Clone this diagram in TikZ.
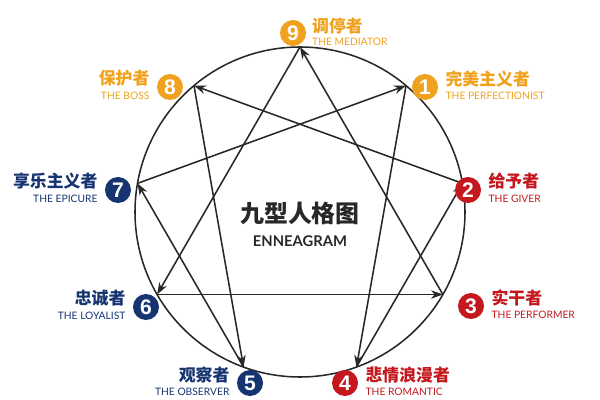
\documentclass[tikz,border=0pt]{standalone}
\usepackage{fontspec}
\setmainfont{Lato}
\newfontfamily\cjk{Noto Sans CJK SC}
\newfontfamily\numfont{Liberation Sans}
\usepackage{tikz}
\usetikzlibrary{arrows.meta}

\definecolor{enorange}{RGB}{240,162,30}
\definecolor{ennavy}{RGB}{22,52,112}
\definecolor{enred}{RGB}{196,24,30}
\definecolor{enline}{RGB}{40,40,40}

\begin{document}
\begin{tikzpicture}[x=0.025cm,y=-0.025cm,
    badge/.style={shape=circle,fill=#1,text=white,inner sep=0pt,minimum size=0.65cm,
      font=\numfont\bfseries\fontsize{15}{15}\selectfont},
    zh/.style={text=#1,inner sep=0pt,font=\cjk\bfseries\fontsize{12}{12}\selectfont},
    en/.style={text=#1,inner sep=0pt,font=\fontsize{7.3}{7.3}\selectfont},
    starline/.style={enline,line width=1.1pt,-{Stealth[length=8.5pt,width=6pt]}}]
        \fill[white] (0,0) rectangle (600,400);
        \useasboundingbox (0,0) rectangle (600,400);
        \draw[enline,line width=1.1pt] (300,212) circle[radius=165];
        \foreach \k in {1,...,9}
          \path (300,212) ++(40*\k-90:165) coordinate (p\k);
        \foreach \a/\b in {9/6,6/3,3/9,1/4,4/2,2/8,8/5,5/7,7/1}
          \draw[starline] (p\a) -- (p\b);
        \node[badge=enorange] (n9) at (293,33) {9};
        \node[badge=enorange] (n8) at (170,87) {8};
        \node[badge=enorange] (n1) at (425,87) {1};
        \node[badge=ennavy] (n7) at (118,190) {7};
        \node[badge=enred] (n2) at (468,190) {2};
        \node[badge=ennavy] (n6) at (146,307) {6};
        \node[badge=enred] (n3) at (471,306) {3};
        \node[badge=ennavy] (n5) at (250,383) {5};
        \node[badge=enred] (n4) at (345,383) {4};
        % right side labels
        \node[zh=enorange,anchor=west] (z9) at ([xshift=4pt,yshift=5pt]n9.east) {调停者};
        \node[en=enorange,anchor=west] (e9) at ([xshift=4pt,yshift=-6pt]n9.east) {THE MEDIATOR};
        \node[zh=enorange,anchor=west] (z1) at ([xshift=5pt,yshift=6pt]n1.east) {完美主义者};
        \node[en=enorange,anchor=west] (e1) at ([xshift=5pt,yshift=-6pt]n1.east) {THE PERFECTIONIST};
        \node[zh=enred,anchor=west] (z2) at ([xshift=5pt,yshift=6pt]n2.east) {给予者};
        \node[en=enred,anchor=west] (e2) at ([xshift=5pt,yshift=-6pt]n2.east) {THE GIVER};
        \node[zh=enred,anchor=west] (z3) at ([xshift=5pt,yshift=6pt]n3.east) {实干者};
        \node[en=enred,anchor=west] (e3) at ([xshift=5pt,yshift=-6pt]n3.east) {THE PERFORMER};
        \node[zh=enred,anchor=west] (z4) at ([xshift=5pt,yshift=6pt]n4.east) {悲情浪漫者};
        \node[en=enred,anchor=west] (e4) at ([xshift=5pt,yshift=-6pt]n4.east) {THE ROMANTIC};
        % left side labels
        \node[zh=enorange,anchor=east] (z8) at ([xshift=-5pt,yshift=6pt]n8.west) {保护者};
        \node[en=enorange,anchor=east] (e8) at ([xshift=-5pt,yshift=-6pt]n8.west) {THE BOSS};
        \node[zh=ennavy,anchor=east] (z7) at ([xshift=-5pt,yshift=6pt]n7.west) {享乐主义者};
        \node[en=ennavy,anchor=east] (e7) at ([xshift=-5pt,yshift=-6pt]n7.west) {THE EPICURE};
        \node[zh=ennavy,anchor=east] (z6) at ([xshift=-5pt,yshift=6pt]n6.west) {忠诚者};
        \node[en=ennavy,anchor=east] (e6) at ([xshift=-5pt,yshift=-6pt]n6.west) {THE LOYALIST};
        \node[zh=ennavy,anchor=east] (z5) at ([xshift=-5pt,yshift=6pt]n5.west) {观察者};
        \node[en=ennavy,anchor=east] (e5) at ([xshift=-5pt,yshift=-6pt]n5.west) {THE OBSERVER};
        % centre
        \node[text=enline,font=\cjk\bfseries\fontsize{17}{17}\selectfont] (title) at (300,213) {九型人格图};
        \node[text=enline,font=\bfseries\fontsize{10.5}{10.5}\selectfont] (sub) at (300,241) {ENNEAGRAM};
\end{tikzpicture}
\end{document}
